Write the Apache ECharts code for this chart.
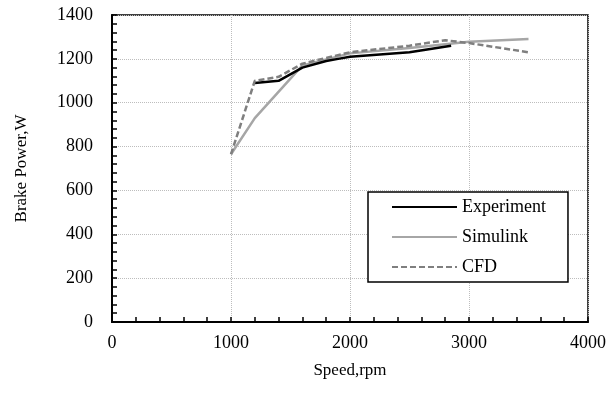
<!DOCTYPE html>
<html>
<head>
<meta charset="utf-8">
<script src="https://cdn.jsdelivr.net/npm/echarts@6/dist/echarts.min.js"></script>
<style>
  html, body { margin: 0; padding: 0; background: #fff; }
  #chart { width: 610px; height: 403px; }
</style>
</head>
<body>
<div id="chart"></div>
<script>
// data
const expSpeed = [1200, 1400, 1600, 1800, 1900, 2000, 2500, 2850];
const expPower = [1090, 1100, 1160, 1190, 1200, 1210, 1230, 1260];

const simSpeed = [1000, 1200, 1600, 2000, 2500, 3000, 3500];
const simPower = [765, 930, 1170, 1225, 1250, 1278, 1290];

const cfdSpeed = [1000, 1200, 1400, 1600, 2000, 2500, 2800, 3000, 3500];
const cfdPower = [765, 1100, 1118, 1178, 1230, 1260, 1285, 1272, 1230];

const xTicks = [0, 4000, 1000];
const yTicks = [0, 1400, 200];

function pairs(xs, ys) {
  return xs.map((x, i) => [x, ys[i]]);
}

const font = 'Liberation Serif';
const chart = echarts.init(document.getElementById('chart'));

const axisCommon = {
  type: 'value',
  nameLocation: 'middle',
  nameTextStyle: { fontFamily: font, fontSize: 17, color: '#000' },
  axisLine: { show: true, lineStyle: { color: '#000', width: 2 } },
  axisTick: { show: true, inside: true, length: 5, lineStyle: { color: '#000', width: 1.5 } },
  minorTick: { show: true, splitNumber: 5, length: 5, lineStyle: { color: '#000', width: 1.5 } },
  axisLabel: { fontFamily: font, fontSize: 18, color: '#000', formatter: v => String(v) },
  splitLine: { show: true, lineStyle: { color: '#bdbdbd', type: 'dotted', width: 1 } }
};

const option = {
  backgroundColor: '#fff',
  animation: false,
  grid: {
    left: 112, right: 22, top: 15, bottom: 81,
    show: true, borderColor: '#000', borderWidth: 1.5
  },
  legend: {
    orient: 'vertical',
    left: 368, top: 192,
    padding: [6, 22, 6, 23],
    itemWidth: 65, itemHeight: 18, itemGap: 12,
    backgroundColor: '#fff',
    borderColor: '#000', borderWidth: 1.5,
    itemStyle: { opacity: 0 },
    textStyle: { fontFamily: font, fontSize: 18, color: '#000' },
    data: ['Experiment', 'Simulink', 'CFD']
  },
  xAxis: Object.assign({}, axisCommon, {
    name: 'Speed,rpm', nameGap: 40,
    min: xTicks[0], max: xTicks[1], interval: xTicks[2],
    axisLabel: Object.assign({}, axisCommon.axisLabel, { margin: 12 })
  }),
  yAxis: Object.assign({}, axisCommon, {
    name: 'Brake Power,W', nameGap: 82,
    min: yTicks[0], max: yTicks[1], interval: yTicks[2],
    axisLabel: Object.assign({}, axisCommon.axisLabel, { margin: 19 })
  }),
  series: [
    {
      name: 'Experiment', type: 'line', showSymbol: false, symbol: 'none',
      lineStyle: { color: '#000', width: 2.5 }, itemStyle: { color: '#000' },
      data: pairs(expSpeed, expPower), z: 3
    },
    {
      name: 'Simulink', type: 'line', showSymbol: false, symbol: 'none',
      lineStyle: { color: '#a6a6a6', width: 2.5 }, itemStyle: { color: '#a6a6a6' },
      data: pairs(simSpeed, simPower), z: 2
    },
    {
      name: 'CFD', type: 'line', showSymbol: false, symbol: 'none',
      lineStyle: { color: '#7f7f7f', width: 2.5, type: [6, 3] }, itemStyle: { color: '#7f7f7f' },
      data: pairs(cfdSpeed, cfdPower), z: 4
    }
  ]
};

chart.setOption(option);
</script>
</body>
</html>
